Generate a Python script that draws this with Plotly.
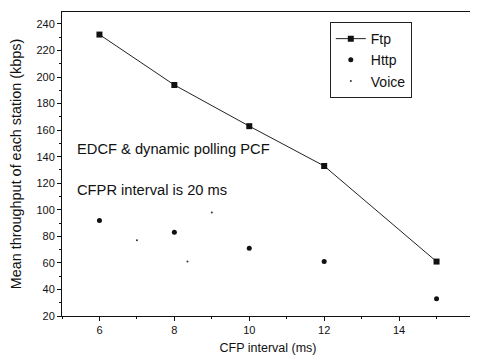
import plotly.graph_objects as go

cfp = [6, 8, 10, 12, 15]
ftp = [232, 194, 163, 133, 61]
http = [92, 83, 71, 61, 33]
voice_x = [7.0, 8.35, 9.0]
voice_y = [77, 61, 98]

fig = go.Figure()
fig.add_trace(go.Scatter(x=cfp, y=ftp, name="Ftp", mode="lines+markers",
                         line=dict(color="#222", width=1),
                         marker=dict(symbol="square", size=6, color="#111")))
fig.add_trace(go.Scatter(x=cfp, y=http, name="Http", mode="markers",
                         marker=dict(symbol="circle", size=5, color="#111")))
fig.add_trace(go.Scatter(x=voice_x, y=voice_y, name="Voice", mode="markers",
                         marker=dict(symbol="circle", size=2, color="#333")))

font = "Liberation Sans, Arial, sans-serif"
fig.update_layout(
    width=470, height=353,
    margin=dict(l=54, r=4, t=4, b=45),
    paper_bgcolor="white", plot_bgcolor="white",
    font=dict(family=font, size=11, color="#111"),
    showlegend=True,
    legend=dict(x=0.650, y=0.967, xanchor="left", yanchor="top",
                bordercolor="#222", borderwidth=1, bgcolor="white",
                font=dict(size=14), itemwidth=30, tracegroupgap=0),
    annotations=[
        dict(x=5.34, y=145.5, xref="x", yref="y", text="EDCF &amp; dynamic polling PCF",
             showarrow=False, xanchor="left", font=dict(size=14.7)),
        dict(x=5.34, y=115, xref="x", yref="y", text="CFPR interval is 20 ms",
             showarrow=False, xanchor="left", font=dict(size=14.7)),
    ],
)
fig.update_xaxes(range=[5, 16], tickvals=[6, 8, 10, 12, 14, 16],
                 ticktext=["6", "8", "10", "12", "14", "16"],
                 automargin=False,
                 showline=True, linecolor="#111", linewidth=1, mirror=True,
                 ticks="outside", ticklen=4, tickcolor="#111",
                 minor=dict(dtick=1, ticks="outside", ticklen=2, tickcolor="#111"),
                 showgrid=False, zeroline=False,
                 title=dict(text="CFP interval (ms)", font=dict(size=12.5), standoff=8))
fig.update_yaxes(range=[20, 249], tickvals=list(range(20, 241, 20)),
                 automargin=False,
                 showline=True, linecolor="#111", linewidth=1, mirror=True,
                 ticks="outside", ticklen=4, tickcolor="#111",
                 minor=dict(dtick=10, ticks="outside", ticklen=2, tickcolor="#111"),
                 showgrid=False, zeroline=False,
                 title=dict(text="Mean throughput of each station (kbps)", font=dict(size=14.4), standoff=14))

fig.write_html("out.html")
